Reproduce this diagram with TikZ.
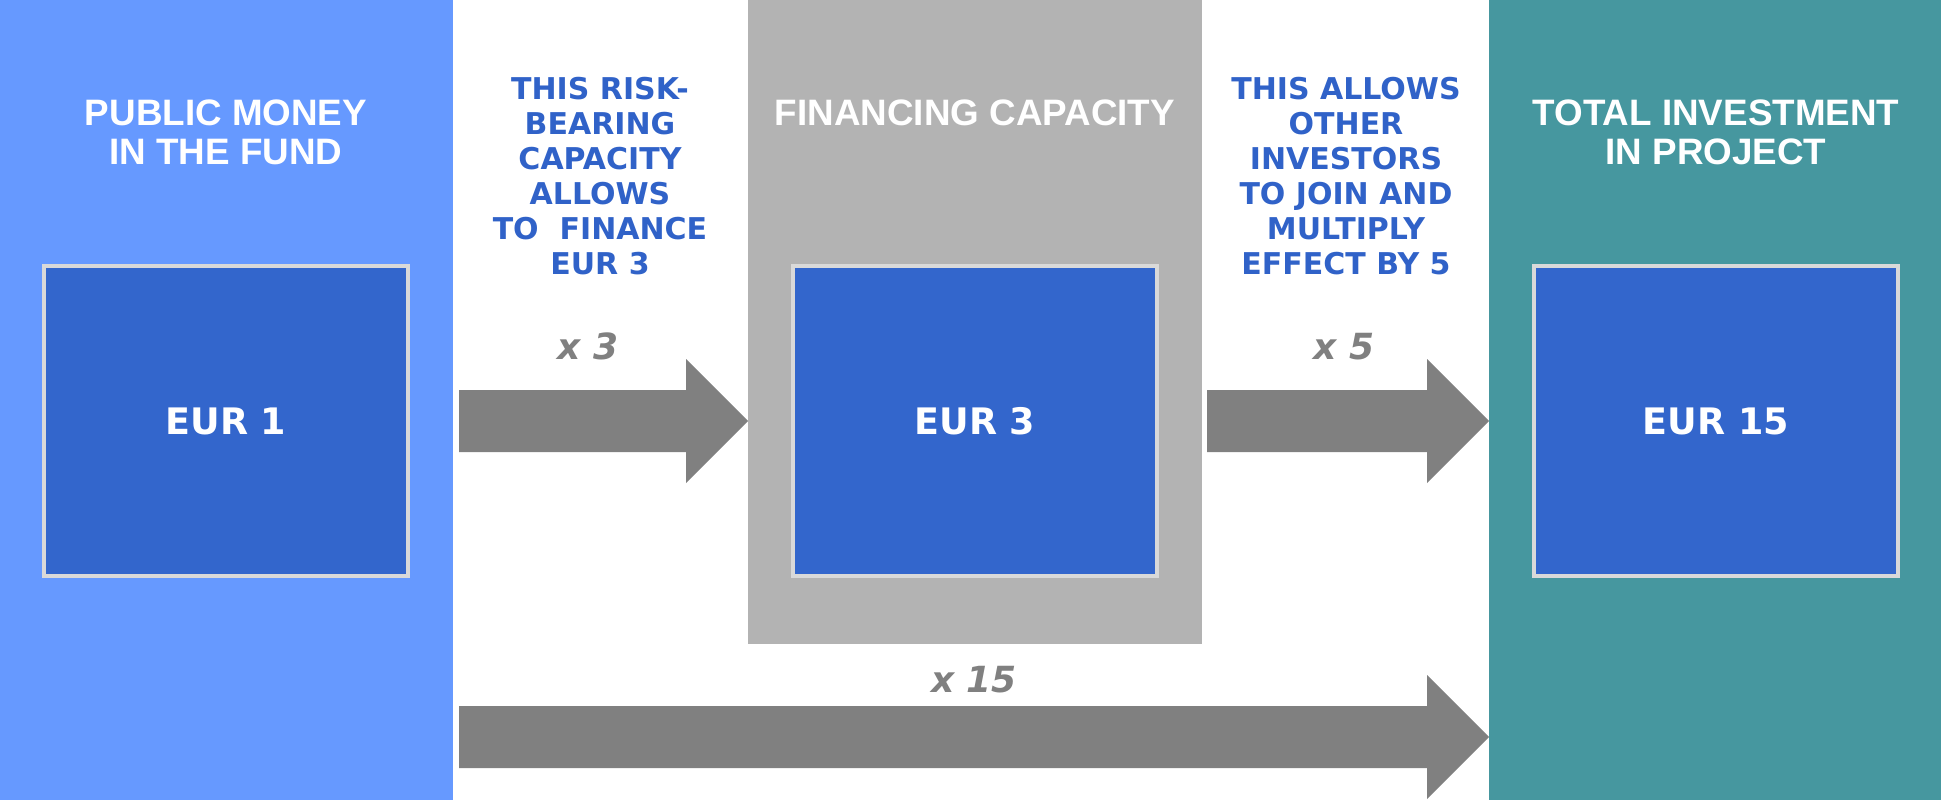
\documentclass[tikz,border=0pt]{standalone}
\usepackage{fontspec}
\usepackage{tikz}
\newfontfamily\headfont{Liberation Sans}
\newfontfamily\bodyfont{DejaVu Sans}
\definecolor{pubblue}{HTML}{6699FF}
\definecolor{fingray}{HTML}{B3B3B3}
\definecolor{totteal}{HTML}{46979F}
\definecolor{eurblue}{HTML}{3366CC}
\definecolor{boxline}{HTML}{D9D9D9}
\definecolor{noteblue}{HTML}{3062C8}
\definecolor{arrgray}{HTML}{808080}
\tikzstyle{column}=[rectangle, inner sep=0pt, anchor=north west]
\tikzstyle{eurbox}=[rectangle, fill=eurblue, draw=boxline, line width=4pt, minimum width=364pt, minimum height=310pt, inner sep=0pt, text=white, font=\bodyfont\bfseries\fontsize{36.5}{40}\selectfont]
\tikzstyle{head}=[anchor=base, align=center, text=white, inner sep=0pt, font=\headfont\bfseries\fontsize{36.8}{38.5}\selectfont]
\tikzstyle{note}=[anchor=base, align=center, text=noteblue, inner sep=0pt, font=\bodyfont\bfseries\fontsize{30}{35}\selectfont]
\tikzstyle{times}=[anchor=base, text=arrgray, inner sep=0pt, font=\bodyfont\bfseries\itshape\fontsize{36}{40}\selectfont]
\tikzstyle{bigarrow}=[fill=arrgray]

\begin{document}
\begin{tikzpicture}[x=1pt, y=-1pt]
                \useasboundingbox (0,0) rectangle (1941,800);
                % columns
                \node[column, fill=pubblue, minimum width=453pt, minimum height=800pt] (pub) at (0,0) {};
                \node[column, fill=fingray, minimum width=454pt, minimum height=644pt] (fin) at (748,0) {};
                \node[column, fill=totteal, minimum width=452pt, minimum height=800pt] (tot) at (1489,0) {};
                % base of a node with several lines = its last line
                \node[head] (pubhead) at (226,164) {PUBLIC MONEY\\IN THE FUND};
                \node[head] (finhead) at (975,125.7) {FINANCING CAPACITY};
                \node[head] (tothead) at (1716,164) {TOTAL INVESTMENT\\IN PROJECT};
                \node[eurbox] (eur1) at (226,421) {EUR 1};
                \node[eurbox] (eur3) at (975,421) {EUR 3};
                \node[eurbox] (eur15) at (1716,421) {EUR 15};
                % texts between the columns
                \node[note] (risk) at (600,274) {THIS RISK-\\BEARING\\CAPACITY\\ALLOWS\\TO~~FINANCE\\EUR 3};
                \node[note] (join) at (1346,274) {THIS ALLOWS\\OTHER\\INVESTORS\\TO JOIN AND\\MULTIPLY\\EFFECT BY 5};
                \node[times] (x3) at (588,359) {x 3};
                \node[times] (x5) at (1344,359) {x 5};
                \node[times] (x15) at (974,692) {x 15};
                % arrows
                \coordinate (a1) at (459,421);
                \coordinate (a2) at (1207,421);
                \coordinate (a3) at (459,737);
                \foreach \s/\t/\l in {a1/fin/227, a2/tot/220, a3/tot/968}
                    \fill[bigarrow] (\s) ++(0,-31) -- ++(\l,0) -- ++(0,-31) -- (\t.west |- \s)
                        -- ++(-62,62) -- ++(0,-31) -- ++(-\l,0) -- cycle;
            \end{tikzpicture}
\end{document}
